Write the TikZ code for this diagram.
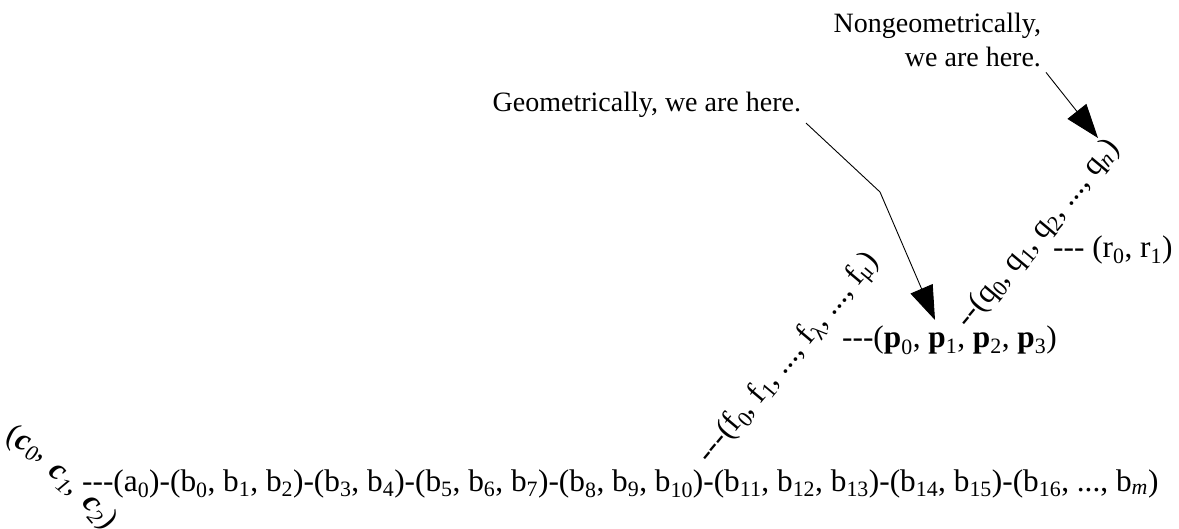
\documentclass[tikz,border=0pt]{standalone}
\usepackage{fontspec}
\setmainfont{Liberation Serif}[Ligatures=TeXOff]
\usepackage{tikz}
\usetikzlibrary{arrows.meta}

\newcommand{\sbs}[1]{\textsubscript{#1}}

\begin{document}
\begin{tikzpicture}[x=1pt,y=-1pt,
    seq/.style={font=\fontsize{31.3}{38}\selectfont, inner sep=0pt},
    lbl/.style={font=\fontsize{28}{34}\selectfont, inner sep=0pt, outer sep=5pt, align=right},
    here/.style={-{Triangle[length=34pt,width=24pt]}, line width=0.9pt}]
                % fix the page
                \useasboundingbox (0,0) rectangle (1179,529);

                % main chain
                \node[seq, anchor=base west] (chain) at (82,491) {---(a\sbs{0})-(b\sbs{0}, b\sbs{1}, b\sbs{2})-(b\sbs{3}, b\sbs{4})-(b\sbs{5}, b\sbs{6}, b\sbs{7})-(b\sbs{8}, b\sbs{9}, b\sbs{10})-(b\sbs{11}, b\sbs{12}, b\sbs{13})-(b\sbs{14}, b\sbs{15})-(b\sbs{16}, ..., b\sbs{\textit{m}})};

                % c branch, bent down to the left
                \node[seq, rotate=-25] (cfirst) at (27,444) {(\textbf{\textit{c}}\sbs{\textit{0}},};
                \node[seq, rotate=-40] (csecond) at (63,481) {\textbf{\textit{c}}\sbs{\textit{1}},};
                \node[seq, rotate=-50] (cthird) at (99,512) {\textbf{\textit{c}}\sbs{\textit{2}})};

                % f branch
                \node[seq, rotate=50, anchor=base west] (fseq) at (709,465) {---(f\sbs{0}, f\sbs{1}, ..., f\sbs{λ}, ..., f\sbs{μ})};

                % p and q, r
                \node[seq, anchor=base west] (pseq) at (842,348) {---(\textbf{p}\sbs{0}, \textbf{p}\sbs{1}, \textbf{p}\sbs{2}, \textbf{p}\sbs{3})};
                \node[seq, rotate=50, anchor=base west] (qseq) at (968,330) {--(q\sbs{0}, q\sbs{1}, q\sbs{2}, ..., q\sbs{\textit{n}})};
                \node[seq, anchor=base west] (rseq) at (1053,258) {--- (r\sbs{0}, r\sbs{1})};

                % labels
                \node[lbl, anchor=base east] (geo) at (806,112) {Geometrically, we are here.};
                \node[lbl, anchor=base east] (nongeo) at (1046,67) {Nongeometrically,\\ we are here.};

                % arrows
                \coordinate (geobend) at (880,192);
                \coordinate (geotip) at (935,320);
                \coordinate (nongeotip) at (1098,138);
                \draw[here] (geo.south east) -- (geobend) -- (geotip);
                \draw[here] (nongeo.south east) -- (nongeotip);
\end{tikzpicture}
\end{document}
